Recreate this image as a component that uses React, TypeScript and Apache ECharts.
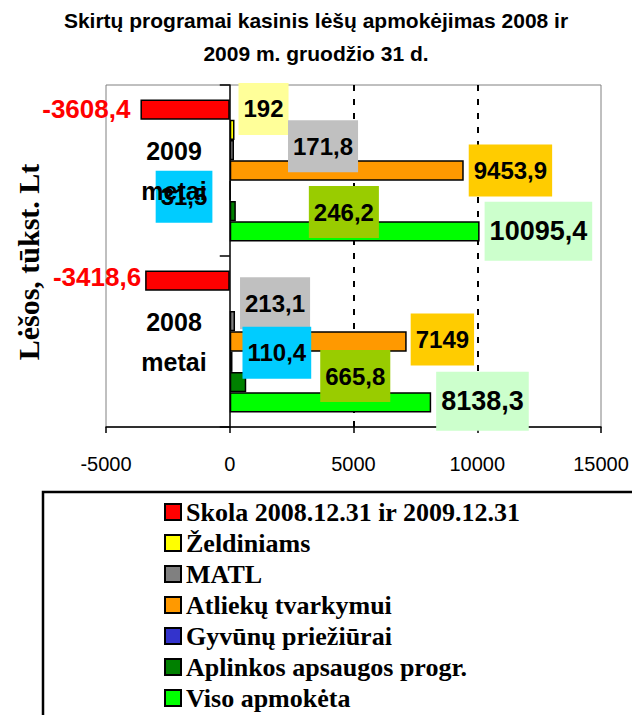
import React, { useEffect, useRef } from "react";
import * as echarts from "echarts";

const categories = ["2008 metai", "2009 metai"];
const seriesNames = [
  "Skola 2008.12.31 ir 2009.12.31",
  "Želdiniams",
  "MATL",
  "Atliekų tvarkymui",
  "Gyvūnų priežiūrai",
  "Aplinkos apsaugos progr.",
  "Viso apmokėta",
];
const skola = [-3418.6, -3608.4];
const zeldiniams = [null, 192];
const matl = [213.1, 171.8];
const atliekos = [7149, 9453.9];
const gyvunai = [110.4, 31.5];
const aplinkos = [665.8, 246.2];
const viso = [8138.3, 10095.4];
const seriesValues = [skola, zeldiniams, matl, atliekos, gyvunai, aplinkos, viso];

const xMin = -5000;
const xMax = 15000;
const xInterval = 5000;

const titleText = "Skirtų programai kasinis lėšų apmokėjimas 2008 ir\n2009 m. gruodžio 31 d.";
const yAxisName = "Lėšos, tūkst. Lt";

// styling
const barColors = ["#FF0000", "#FFFF00", "#808080", "#FF9900", "#3333CC", "#008000", "#00FF00"];
const labelBg = [null, "#FFFF99", "#C0C0C0", "#FFCC00", "#00CCFF", "#99CC00", "#CCFFCC"];
// [position, distance, dy] per series per category
const labelPlace: any[][] = [
  [["left", 4, -4], ["left", 10, -1]],
  [null, ["right", 4, -21]],
  [["right", 5, -18], ["right", 54, -4]],
  [["right", 4, -2], ["right", 5, 0]],
  [["right", 10, -9], ["left", 17, 6]],
  [["right", 74, -6], ["right", 73, 1]],
  [["right", 5, -1], ["right", 5, 0]],
];

const fmt = (v: number) => String(v).replace(".", ",");

export default function App() {
  const ref = useRef<HTMLDivElement>(null);
  useEffect(() => {
    document.body.style.margin = "0";
    const chart = echarts.init(ref.current!, undefined, { renderer: "svg" });
    const series = seriesNames.map((name, si) => {
      const isViso = si === 6;
      const isSkola = si === 0;
      return {
        name,
        type: "bar",
        barGap: "0%",
        barCategoryGap: "17%",
        itemStyle: { color: barColors[si], borderColor: "#000", borderWidth: 1.5 },
        data: seriesValues[si].map((v, ci) => {
          const p = labelPlace[si][ci];
          if (v == null) return { value: null };
          if (!p) return { value: v };
          return {
            value: v,
            label: {
              show: true,
              position: p[0],
              distance: p[1],
              offset: [0, p[2]],
              formatter: () => fmt(v as number),
              fontFamily: "Liberation Sans",
              fontWeight: "bold",
              fontSize: isSkola ? 26 : isViso ? 27 : 24,
              lineHeight: isSkola ? 26 : isViso ? 27 : 24,
              color: isSkola ? "#FF0000" : "#000",
              backgroundColor: labelBg[si] || "transparent",
              padding: isSkola ? 0 : isViso ? [16, 5] : [14, 5],
            },
          };
        }),
      };
    });
    chart.setOption({
      animation: false,
      title: {
        text: titleText,
        left: "center",
        top: 4,
        padding: 0,
        textStyle: {
          fontFamily: "Liberation Sans",
          fontWeight: "bold",
          fontSize: 21,
          lineHeight: 33,
          color: "#000",
        },
      },
      grid: {
        left: 106,
        right: 31,
        top: 85,
        bottom: 288,
        show: true,
        borderColor: "#808080",
        borderWidth: 1,
        backgroundColor: "transparent",
      },
      legend: {
        data: seriesNames,
        orient: "vertical",
        left: 164,
        top: 499,
        height: 240,
        padding: 0,
        icon: "rect",
        itemWidth: 16,
        itemHeight: 16,
        itemGap: 5,
        textStyle: {
          fontFamily: "Liberation Serif",
          fontWeight: "bold",
          fontSize: 26,
          lineHeight: 26,
          color: "#000",
        },
      },
      xAxis: {
        type: "value",
        min: xMin,
        max: xMax,
        interval: xInterval,
        axisLine: { show: true, lineStyle: { color: "#000", width: 1.5 } },
        axisTick: { show: true, length: 6, lineStyle: { color: "#000", width: 1.5 } },
        axisLabel: {
          fontFamily: "Liberation Sans",
          fontSize: 20,
          color: "#000",
          margin: 27,
          formatter: (v: number) => String(v),
        },
        splitLine: {
          show: true,
          lineStyle: {
            color: ["transparent", "transparent", "#000", "#000", "transparent"],
            width: 2,
            type: [6, 8],
          },
        },
      },
      yAxis: {
        type: "category",
        data: categories,
        z: 10,
        axisLine: { show: true, onZero: true, lineStyle: { color: "#000", width: 1.5 } },
        axisTick: { show: true, length: 10, lineStyle: { color: "#000", width: 1.5 } },
        axisLabel: {
          formatter: (v: string) => v.replace(" ", "\n"),
          fontFamily: "Liberation Sans",
          fontWeight: "bold",
          fontSize: 25,
          lineHeight: 40,
          color: "#000",
          align: "center",
          margin: -68,
        },
        splitLine: { show: false },
      },
      graphic: [
        {
          type: "text",
          x: 28,
          y: 262,
          rotation: Math.PI / 2,
          style: {
            text: yAxisName,
            font: 'bold 30px "Liberation Serif"',
            fill: "#000",
            align: "center",
            verticalAlign: "middle",
          },
        },
        {
          type: "rect",
          shape: { x: 43, y: 492, width: 620, height: 260 },
          style: { fill: "none", stroke: "#000", lineWidth: 2.5 },
        },
      ],
      series,
    });
    return () => chart.dispose();
  }, []);
  return <div ref={ref} style={{ width: 632, height: 715 }} />;
}
